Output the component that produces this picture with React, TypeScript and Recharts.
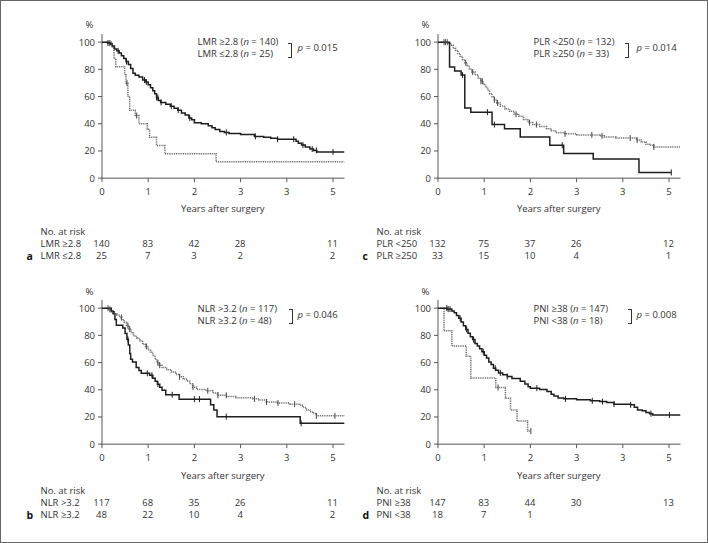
import React from 'react';
import { LineChart, Line, XAxis, YAxis } from 'recharts';

const FONT = '"Open Sans", "Noto Sans", sans-serif';
const FS = 9.5;
const TXT = '#333';
const AX = '#555';

const yearTicks = [0, 1, 2, 3, 4, 5];
const yearTickLabels = ['0', '1', '2', '3', '3', '5'];
const survTicks = [0, 20, 40, 60, 80, 100];
const riskTimes = [0, 1, 2, 3, 5];

// a: LMR
const lmrNames = ['LMR ≥2.8', 'LMR ≤2.8'];
const lmrN = [140, 25];
const lmrP = '0.015';
const lmrHigh = [[0,100],[0.12,99.3],[0.18,98.6],[0.22,97.1],[0.27,95],[0.32,93.6],[0.37,92.1],[0.42,90],[0.47,87.9],[0.52,85.7],[0.57,83.6],[0.62,80.7],[0.67,77.1],[0.72,75.7],[0.8,74.3],[0.88,72.1],[0.95,70.7],[1.0,68.6],[1.05,66.4],[1.1,64.3],[1.14,62.1],[1.18,59.3],[1.22,57.1],[1.27,55.7],[1.38,54.3],[1.48,52.9],[1.56,51.4],[1.64,50],[1.72,47.9],[1.8,46.4],[1.88,44.3],[1.94,42.9],[2.0,40.7],[2.15,40],[2.3,38.6],[2.38,37.1],[2.45,35.7],[2.55,34.3],[2.65,33.6],[2.75,32.9],[3.0,32.1],[3.3,30.7],[3.5,30],[3.65,29.3],[3.8,28.6],[4.2,27.1],[4.25,25.7],[4.32,24.3],[4.4,22.9],[4.5,21.4],[4.58,20.4],[4.65,19.3],[5.25,19.3]];
const lmrHighCens = [0.13,0.17,0.35,0.53,0.92,0.96,1.18,1.21,1.28,1.5,1.65,1.9,2.69,3.32,3.8,4.15,4.35,4.55,4.64,5.0];
const lmrLow = [[0,100],[0.22,96],[0.26,88],[0.3,82],[0.49,76],[0.52,70],[0.56,60],[0.6,50],[0.72,46],[0.8,40],[0.98,36],[1.03,30],[1.18,24],[1.36,18],[2.47,12],[5.25,12]];
const lmrLowCens = [0.54, 0.75];
const lmrRiskHigh = ['140', '83', '42', '28', '11'];
const lmrRiskLow = ['25', '7', '3', '2', '2'];

// b: NLR
const nlrNames = ['NLR >3.2', 'NLR ≥3.2'];
const nlrN = [117, 48];
const nlrP = '0.046';
const nlrHigh = [[0,100],[0.15,99.1],[0.2,97.4],[0.25,95.7],[0.32,94.9],[0.38,93.2],[0.43,91.5],[0.48,89.7],[0.53,87.2],[0.58,84.6],[0.63,82],[0.68,79.5],[0.75,77.8],[0.82,76.1],[0.88,73.5],[0.94,71.8],[1.0,69.2],[1.05,67.5],[1.1,65],[1.15,62.4],[1.19,59.8],[1.24,58.1],[1.3,56.4],[1.4,54.7],[1.5,53],[1.6,51.3],[1.68,49.6],[1.76,47.9],[1.84,46.2],[1.9,44.4],[1.96,41.9],[2.05,40.2],[2.25,39.3],[2.4,37.6],[2.5,35.9],[2.7,35],[2.9,34.2],[3.27,33.3],[3.4,32.5],[3.56,31],[3.8,30.3],[4.06,29.4],[4.28,28.6],[4.35,27],[4.42,25.2],[4.5,23.9],[4.57,22.5],[4.64,20.8],[5.25,20.8]];
const nlrHighCens = [0.13,0.17,0.27,0.42,0.56,0.6,0.96,1.21,1.25,1.68,1.97,2.29,2.51,2.69,3.3,3.56,3.81,4.17,4.64,5.04];
const nlrLow = [[0,100],[0.2,97.9],[0.24,95.8],[0.28,91.7],[0.31,87.5],[0.45,85.4],[0.5,81.3],[0.54,77.1],[0.57,72.9],[0.6,66.7],[0.62,62.5],[0.66,60.4],[0.74,56.3],[0.8,54.2],[0.85,52.1],[1.03,50.7],[1.1,48.5],[1.15,46.3],[1.2,44.1],[1.25,41.9],[1.3,39.7],[1.38,36.3],[1.67,33.1],[2.35,28.9],[2.42,25.2],[2.49,20.2],[4.29,15.3],[5.25,15.3]];
const nlrLowCens = [0.56, 0.98, 1.08, 1.21, 1.52, 2.0, 2.11, 2.69, 4.31];
const nlrRiskHigh = ['117', '68', '35', '26', '11'];
const nlrRiskLow = ['48', '22', '10', '4', '2'];

// c: PLR
const plrNames = ['PLR <250', 'PLR ≥250'];
const plrN = [132, 33];
const plrP = '0.014';
const plrLow = [[0,100],[0.22,99.2],[0.28,97.7],[0.33,95.5],[0.38,93.9],[0.43,91.7],[0.48,89.4],[0.53,87.1],[0.58,84.8],[0.63,82.6],[0.68,80.3],[0.73,78],[0.8,75.8],[0.87,73.5],[0.93,71.2],[0.98,68.9],[1.03,66.7],[1.08,64.4],[1.12,62.1],[1.17,59.8],[1.22,57.6],[1.27,55.3],[1.35,53],[1.45,50.8],[1.55,49.2],[1.65,47],[1.75,45.5],[1.85,43.2],[1.95,40.9],[2.05,39.4],[2.2,37.9],[2.35,36.4],[2.45,34.8],[2.55,33.3],[2.75,32.6],[3.0,31.8],[3.5,31.1],[3.6,30.3],[3.85,29.5],[4.3,28],[4.4,26.5],[4.5,25],[4.58,24.2],[4.67,23],[5.25,23]];
const plrLowCens = [0.13,0.16,0.2,0.6,0.75,0.93,0.96,1.22,1.29,1.69,1.98,2.13,2.75,3.33,3.55,4.16,4.31,4.67];
const plrHigh = [[0,100],[0.25,81.8],[0.36,78.8],[0.5,75.8],[0.58,51.5],[0.71,48.5],[1.17,39.4],[1.44,36.4],[1.78,30.3],[2.42,24.2],[2.72,18.2],[3.36,14.1],[4.35,4.2],[5.05,4.2]];
const plrHighCens = [0.53, 1.07, 1.22, 2.69, 5.05];
const plrRiskLow = ['132', '75', '37', '26', '12'];
const plrRiskHigh = ['33', '15', '10', '4', '1'];

// d: PNI
const pniNames = ['PNI ≥38', 'PNI <38'];
const pniN = [147, 18];
const pniP = '0.008';
const pniHigh = [[0,100],[0.2,99.3],[0.3,98],[0.35,96.6],[0.4,94.6],[0.45,92.5],[0.5,89.8],[0.55,87.1],[0.6,84.4],[0.65,81.6],[0.7,78.9],[0.75,76.9],[0.8,74.1],[0.85,72.1],[0.9,70.1],[0.95,68],[1.0,65.3],[1.05,63.3],[1.1,60.5],[1.15,58.5],[1.2,55.8],[1.25,54.4],[1.31,52.4],[1.4,51],[1.5,49.7],[1.6,48.3],[1.78,46.3],[1.88,44.2],[1.95,42.2],[2.0,41.2],[2.2,40.1],[2.36,38.8],[2.45,36.7],[2.51,35.4],[2.6,34],[2.72,33.3],[3.0,32.7],[3.3,31.9],[3.5,31.3],[3.65,30.6],[3.81,29.4],[4.17,28.9],[4.25,27.2],[4.32,25.2],[4.42,24.5],[4.5,23.2],[4.58,22.4],[4.65,21.5],[5.25,21.5]];
const pniHighCens = [0.19,0.22,0.26,0.48,0.62,0.77,0.98,1.24,1.35,1.5,2.14,2.76,3.34,3.56,3.81,4.17,4.61,5.01];
const pniLow = [[0,100],[0.13,83.3],[0.3,72.2],[0.61,64.7],[0.71,48.6],[1.25,41.7],[1.46,33.8],[1.57,25.2],[1.71,17],[1.94,9.6],[2.01,9.6]];
const pniLowCens = [1.3, 2.01];
const pniRiskHigh = ['147', '83', '44', '30', '13'];
const pniRiskLow = ['18', '7', '1', '', ''];

const PX_YEAR = 46.2;
const X_MAX = 5.25;
const PW = PX_YEAR * X_MAX;
const PH100 = 136;
const Y_MAX = 106;
const PH = (PH100 * Y_MAX) / 100;
const ML = 40;
const MT = 6;
const MR = 8;
const MB = 28;
const ROW = 12;
const LEG = 12;

const SOLID = '#1e1e1e';
const DOTTED = '#6a6a6a';

type Curve = { pts: number[][]; cens: number[]; dotted: boolean };

const toRows = (pts: number[][]) => pts.map(([t, s]) => ({ t, s }));
const censRows = (pts: number[][], cens: number[]) =>
  cens.map((ct) => {
    let s = pts[0][1];
    for (const [t, v] of pts) if (t <= ct) s = v;
    return { t: ct, s };
  });

const censorDot = (color: string) => (props: any) => {
  const { cx, cy, index } = props;
  if (cx == null || cy == null) return <g key={index} />;
  return <line key={index} x1={cx} x2={cx} y1={cy - 3} y2={cy + 3} stroke={color} strokeWidth={1} />;
};

const abs = (x: number, y: number, extra: React.CSSProperties = {}): React.CSSProperties => ({
  position: 'absolute',
  left: x,
  top: y,
  transform: 'translateY(-50%)',
  whiteSpace: 'nowrap',
  fontFamily: FONT,
  fontSize: FS,
  color: TXT,
  lineHeight: 1,
  ...extra,
});

interface PanelProps {
  L: number;
  Y: number;
  curves: Curve[];
  names: string[];
  ns: number[];
  p: string;
  risk: string[][];
  letter: string;
  riskOff: number;
  bx: number;
  px: number;
}

function Panel({ L, Y, curves, names, ns, p, risk, letter, riskOff, bx, px }: PanelProps) {
  const y0 = Y + PH100;
  const plotTop = y0 - PH;
  const tickStyle = { fontSize: FS, fill: TXT, fontFamily: FONT };
  const r0 = y0 + riskOff;
  return (
    <>
      <div style={{ position: 'absolute', left: L - ML, top: plotTop - MT }}>
        <LineChart width={ML + PW + MR} height={MT + PH + MB} margin={{ top: MT, right: MR, left: 0, bottom: 0 }}>
          <XAxis
            type="number"
            dataKey="t"
            domain={[0, X_MAX]}
            ticks={yearTicks}
            tickFormatter={(v: number) => yearTickLabels[yearTicks.indexOf(v)]}
            allowDataOverflow
            height={MB}
            tickSize={4}
            tickMargin={6}
            stroke={AX}
            tick={tickStyle}
          />
          <YAxis
            type="number"
            dataKey="s"
            domain={[0, Y_MAX]}
            ticks={survTicks}
            allowDataOverflow
            width={ML}
            tickSize={4}
            tickMargin={3}
            stroke={AX}
            tick={tickStyle}
          />
          {curves.map((c, i) => (
            <Line
              key={'c' + i}
              data={toRows(c.pts)}
              dataKey="s"
              type="stepAfter"
              stroke={c.dotted ? DOTTED : SOLID}
              strokeWidth={1.5}
              strokeDasharray={c.dotted ? '1 0.8' : undefined}
              dot={false}
              activeDot={false}
              isAnimationActive={false}
            />
          ))}
          {curves.map((c, i) => (
            <Line
              key={'m' + i}
              data={censRows(c.pts, c.cens)}
              dataKey="s"
              type="linear"
              stroke="none"
              dot={censorDot(c.dotted ? '#444' : SOLID)}
              activeDot={false}
              isAnimationActive={false}
            />
          ))}
        </LineChart>
      </div>
      <div style={abs(L - 16, Y - 17)}>%</div>
      {names.map((nm, i) => (
        <div key={nm} style={abs(L + 96, Y + i * LEG)}>
          {nm} (<i>n</i> = {ns[i]})
        </div>
      ))}
      <div
        style={{
          position: 'absolute',
          left: L + bx,
          top: Y + 0.5,
          width: 3,
          height: 13,
          borderTop: `1px solid ${TXT}`,
          borderRight: `1px solid ${TXT}`,
          borderBottom: `1px solid ${TXT}`,
        }}
      />
      <div style={abs(L + px, Y + 6)}>
        <i>p</i> = {p}
      </div>
      <div style={abs(L + PW / 2, y0 + 31, { transform: 'translate(-50%,-50%)' })}>Years after surgery</div>
      <div style={abs(L - 61, r0)}>No. at risk</div>
      {risk.map((row, ri) => (
        <React.Fragment key={ri}>
          <div style={abs(L - 61, r0 + ROW * (ri + 1))}>{names[ri]}</div>
          {row.map((v, ci) => (
            <div key={ci} style={abs(L + riskTimes[ci] * PX_YEAR, r0 + ROW * (ri + 1), { transform: 'translate(-50%,-50%)' })}>
              {v}
            </div>
          ))}
        </React.Fragment>
      ))}
      <div style={abs(L - 75, r0 + 2 * ROW, { fontWeight: 700, fontSize: 10.5, color: '#111' })}>{letter}</div>
    </>
  );
}

export default function App() {
  return (
    <div
      style={{
        position: 'absolute',
        left: 0,
        top: 0,
        width: 708,
        height: 543,
        boxSizing: 'border-box',
        border: '1.5px solid #666',
        background: '#fff',
        overflow: 'hidden',
      }}
    >
      <div style={{ position: 'absolute', left: -1.5, top: -1.5 }}>
        <Panel
          L={102}
          Y={42.5}
          curves={[
            { pts: lmrLow, cens: lmrLowCens, dotted: true },
            { pts: lmrHigh, cens: lmrHighCens, dotted: false },
          ]}
          names={lmrNames}
          ns={lmrN}
          p={lmrP}
          risk={[lmrRiskHigh, lmrRiskLow]}
          letter="a"
          riskOff={54}
          bx={186}
          px={196}
        />
        <Panel
          L={438}
          Y={42.5}
          curves={[
            { pts: plrLow, cens: plrLowCens, dotted: true },
            { pts: plrHigh, cens: plrHighCens, dotted: false },
          ]}
          names={plrNames}
          ns={plrN}
          p={plrP}
          risk={[plrRiskLow, plrRiskHigh]}
          letter="c"
          riskOff={54}
          bx={187}
          px={199}
        />
        <Panel
          L={102}
          Y={309}
          curves={[
            { pts: nlrHigh, cens: nlrHighCens, dotted: true },
            { pts: nlrLow, cens: nlrLowCens, dotted: false },
          ]}
          names={nlrNames}
          ns={nlrN}
          p={nlrP}
          risk={[nlrRiskHigh, nlrRiskLow]}
          letter="b"
          riskOff={46}
          bx={187}
          px={196}
        />
        <Panel
          L={438}
          Y={309}
          curves={[
            { pts: pniLow, cens: pniLowCens, dotted: true },
            { pts: pniHigh, cens: pniHighCens, dotted: false },
          ]}
          names={pniNames}
          ns={pniN}
          p={pniP}
          risk={[pniRiskHigh, pniRiskLow]}
          letter="d"
          riskOff={46}
          bx={190}
          px={199}
        />
      </div>
    </div>
  );
}
